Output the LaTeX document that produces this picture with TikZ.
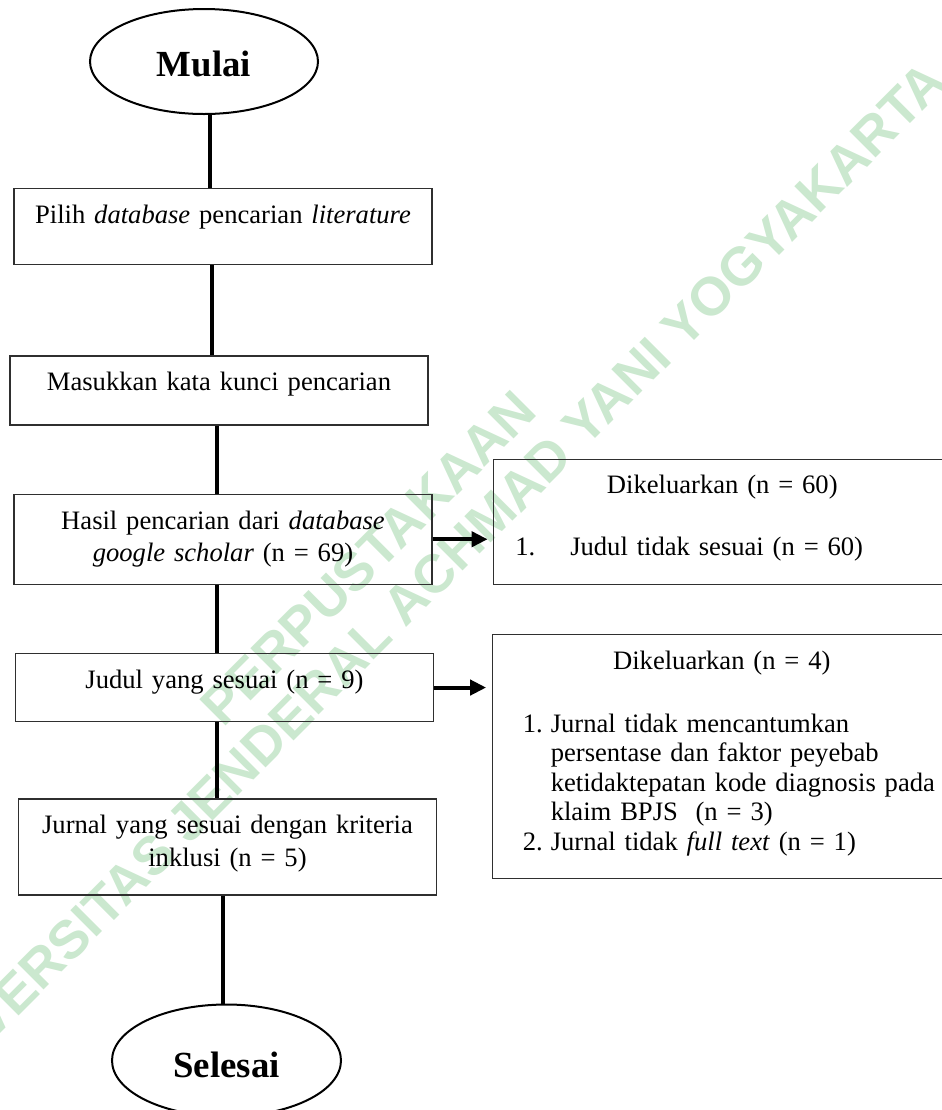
\documentclass[tikz,border=0pt]{standalone}
\usepackage{fontspec}
\setmainfont{Liberation Serif}
\newfontfamily\wmfont{Liberation Sans}
\usepackage{tikz}
\usepackage{xcolor}
\usetikzlibrary{arrows.meta,positioning,shapes.geometric}
\definecolor{Edge}{HTML}{2F2F2F}
\definecolor{Wash}{HTML}{CBE8CF}
\tikzset{
  flowbox/.style={
    draw=Edge,line width=0.65pt,text width=193pt,inner xsep=8pt,inner ysep=0pt,
    align=center,text height=17.5pt,
    font=\fontsize{13.3pt}{16.25pt}\selectfont
  },
  exclude/.style={
    draw=Edge,line width=0.65pt,text width=220pt,inner xsep=4.5pt,inner ysep=0pt,
    align=left,text height=17.25pt,
    font=\fontsize{13.3pt}{14.75pt}\selectfont
  },
  terminal/.style={
    ellipse,draw,line width=1pt,inner sep=0pt,
    minimum width=114pt,minimum height=52.5pt,text height=15.5pt,
    font=\fontsize{18.4pt}{20pt}\selectfont\bfseries
  },
  link/.style={line width=2.1pt},
  arrow/.style={-{Triangle[length=8pt,width=7.5pt]},line width=2pt},
  wmark/.style={
    rotate=45,text=Wash,inner sep=0pt,
    font=\wmfont\fontsize{27pt}{30pt}\selectfont\bfseries
  }
}

\begin{document}
\begin{tikzpicture}
  \useasboundingbox (0,0) rectangle (471pt,-555pt);
  \clip (0,0) rectangle (471pt,-555pt);
  \node[wmark] (wm1) at (184pt,-279pt) {PERPUSTAKAAN};
  \node[wmark] (wm2) at (212pt,-292pt) {UNIVERSITAS JENDERAL ACHMAD YANI YOGYAKARTA};

  \node[terminal] (mulai) at (102pt,-30.75pt) {Mulai};
  \node[flowbox,text depth=20.5pt,below=36.5pt of mulai,xshift=9.5pt] (pilih)
    {Pilih \textit{database} pencarian \textit{literature}};
  \node[flowbox,text depth=17pt,below=45pt of pilih,xshift=-2pt] (masuk)
    {Masukkan kata kunci pencarian};
  \node[flowbox,text depth=27.5pt,below=34pt of masuk,xshift=2pt] (hasil)
    {Hasil pencarian dari \textit{database}\\\textit{google scholar} (n = 69)};
  \node[flowbox,text depth=16.5pt,below=34pt of hasil,xshift=0.75pt] (judul)
    {Judul yang sesuai (n = 9)};
  \node[flowbox,text depth=30.5pt,below=38pt of judul,xshift=1.5pt] (jurnal)
    {Jurnal yang sesuai dengan kriteria\\inklusi (n = 5)};
  \node[terminal,minimum width=114.5pt,minimum height=56pt,text height=17.5pt,
    below=54pt of jurnal,xshift=-0.5pt] (selesai) {Selesai};

  \node[exclude,text depth=45.25pt,right=30pt of hasil.south east,anchor=south west] (keluar1)
    {\makebox[\linewidth]{Dikeluarkan (n = 60)}\\[16.25pt]
     \hspace*{6.5pt}\makebox[27.5pt][l]{1.}Judul tidak sesuai (n = 60)};
  \node[exclude,text depth=104.75pt,right=29pt of judul.north east,anchor=north west,yshift=9.5pt] (keluar2)
    {\makebox[\linewidth]{Dikeluarkan (n = 4)}\\[16.75pt]
     \hspace*{10.5pt}\makebox[14pt][l]{1.}Jurnal tidak mencantumkan\\
     \hspace*{24.5pt}persentase dan faktor peyebab\\
     \hspace*{24.5pt}\mbox{ketidaktepatan kode diagnosis pada}\\
     \hspace*{24.5pt}klaim BPJS\ \ (n = 3)\\
     \hspace*{10.5pt}\makebox[14pt][l]{2.}Jurnal tidak \textit{full text} (n = 1)};

  \draw[link] ([xshift=3pt]mulai.south) -- ([xshift=3pt]mulai.south |- pilih.north);
  \draw[link] ([xshift=-5.5pt]pilih.south) -- ([xshift=-5.5pt]pilih.south |- masuk.north);
  \draw[link] ([xshift=-1pt]masuk.south) -- ([xshift=-1pt]masuk.south |- hasil.north);
  \draw[link] ([xshift=-3pt]hasil.south) -- ([xshift=-3pt]hasil.south |- judul.north);
  \draw[link] ([xshift=-3.75pt]judul.south) -- ([xshift=-3.75pt]judul.south |- jurnal.north);
  \draw[link] ([xshift=-2.25pt]jurnal.south) -- ([xshift=-2.25pt]jurnal.south |- selesai.north);
  \draw[arrow,shorten >=2.5pt] (hasil.east) -- (hasil.east -| keluar1.west);
  \draw[arrow,shorten >=3pt] (judul.east) -- (judul.east -| keluar2.west);
\end{tikzpicture}
\end{document}
